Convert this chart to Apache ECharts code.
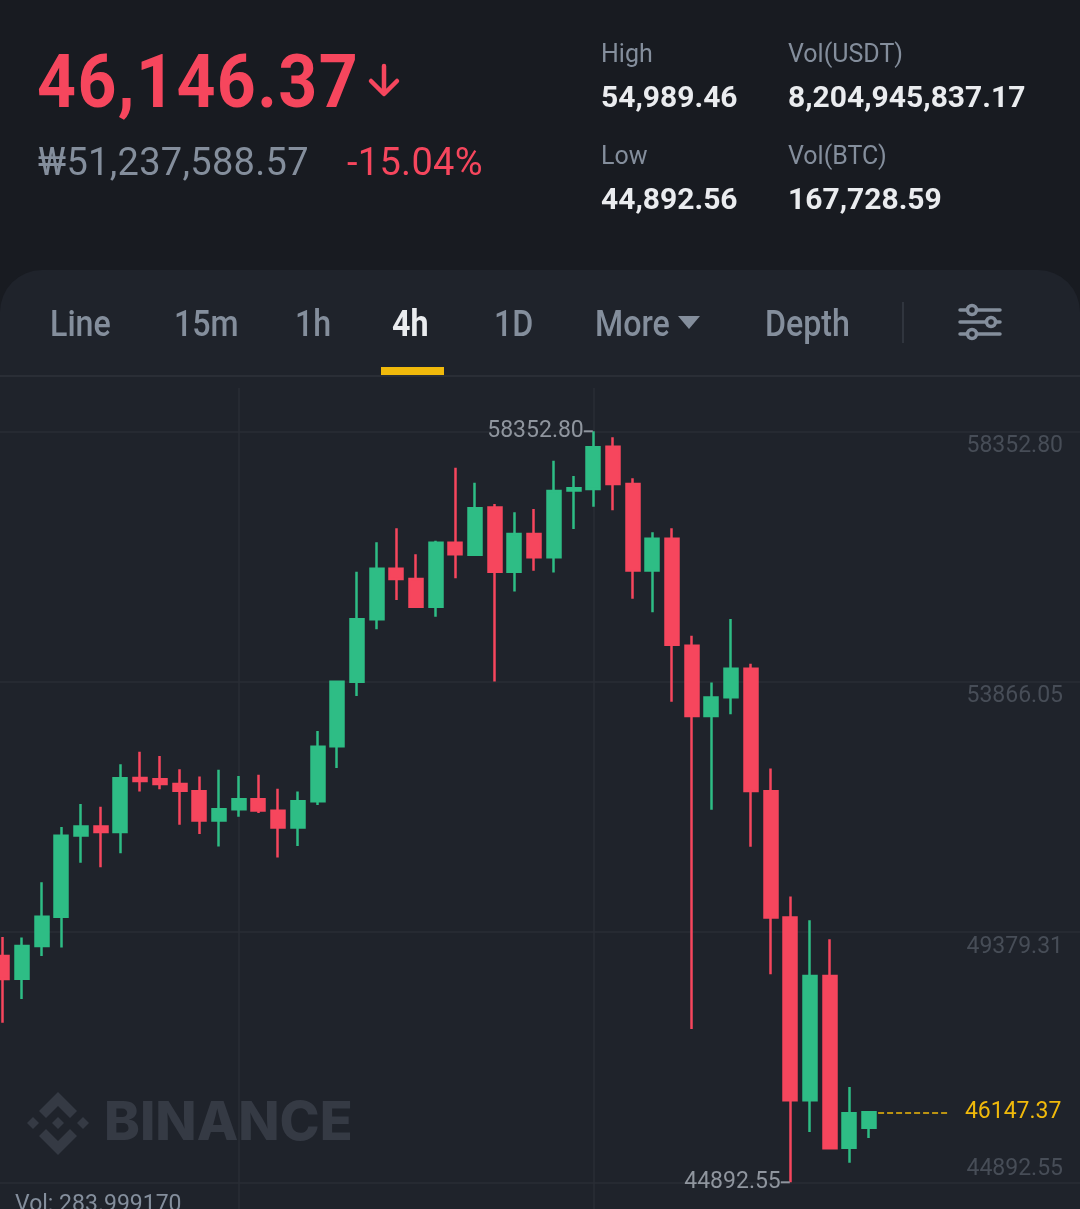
<!DOCTYPE html>
<html>
<head>
<meta charset="utf-8">
<script src="https://cdn.jsdelivr.net/npm/echarts@6/dist/echarts.min.js"></script>
<style>
html,body{margin:0;padding:0;width:1080px;height:1209px;overflow:hidden;background:#181b21;font-family:Roboto,'Noto Sans',sans-serif;}
.abs{position:absolute;white-space:nowrap;line-height:1;}
#panel{position:absolute;left:0;top:270px;width:1080px;height:939px;background:#1f232b;border-radius:42px 42px 0 0;}
#chart{position:absolute;left:0;top:0;width:1080px;height:1209px;}
.lbl{font-size:25px;color:#848e9c;font-weight:400;}
.val{font-size:30px;color:#eaecef;font-weight:700;}
.tab{font-size:37px;color:#848e9c;font-weight:500;transform:scaleX(0.87);transform-origin:0 0;}
</style>
</head>
<body>
<div id="panel"></div>
<div id="chart"></div>

<div class="abs" style="left:37px;top:44px;font-size:68px;font-weight:700;color:#f6465d;letter-spacing:1.4px;transform:scaleY(1.1);transform-origin:0 0;">46,146.37</div>
<svg class="abs" style="left:364px;top:62px;" width="40" height="36" viewBox="0 0 40 36">
  <path d="M20 4 L20 31 M7 19 L20 32 L33 19" stroke="#f6465d" stroke-width="4.5" fill="none" stroke-linecap="round" stroke-linejoin="round"/>
</svg>
<div class="abs" style="left:38px;top:143px;font-size:38px;color:#848e9c;letter-spacing:0.3px;">₩51,237,588.57</div>
<div class="abs" style="left:347px;top:143px;font-size:38px;color:#f6465d;letter-spacing:0.3px;">-15.04%</div>

<div class="abs lbl" style="left:601px;top:41px;">High</div>
<div class="abs val" style="left:601px;top:81.5px;">54,989.46</div>
<div class="abs lbl" style="left:788px;top:41px;">Vol(USDT)</div>
<div class="abs val" style="left:788px;top:81.5px;">8,204,945,837.17</div>
<div class="abs lbl" style="left:601px;top:143px;">Low</div>
<div class="abs val" style="left:601px;top:183.5px;">44,892.56</div>
<div class="abs lbl" style="left:788px;top:143px;">Vol(BTC)</div>
<div class="abs val" style="left:788px;top:183.5px;">167,728.59</div>

<div class="abs tab" style="left:50px;top:305px;">Line</div>
<div class="abs tab" style="left:174px;top:305px;">15m</div>
<div class="abs tab" style="left:295px;top:305px;">1h</div>
<div class="abs tab" style="left:392px;top:305px;color:#eaecef;font-weight:700;">4h</div>
<div class="abs tab" style="left:494px;top:305px;">1D</div>
<div class="abs tab" style="left:595px;top:305px;">More</div>
<svg class="abs" style="left:678px;top:316px;" width="22" height="14"><polygon points="0,0 22,0 11,13" fill="#848e9c"/></svg>
<div class="abs tab" style="left:765px;top:305px;">Depth</div>
<div class="abs" style="left:902px;top:302px;width:2px;height:41px;background:#30353e;"></div>
<svg class="abs" style="left:955px;top:300px;" width="50" height="44" viewBox="0 0 50 44">
  <g stroke="#848e9c" stroke-width="3.5" stroke-linecap="round" fill="#1f232b">
    <line x1="5" y1="10" x2="45" y2="10"/>
    <line x1="5" y1="22" x2="45" y2="22"/>
    <line x1="5" y1="34" x2="45" y2="34"/>
    <circle cx="17" cy="10" r="4.5"/>
    <circle cx="36" cy="22" r="4.5"/>
    <circle cx="17" cy="34" r="4.5"/>
  </g>
</svg>
<div class="abs" style="left:381px;top:367px;width:63px;height:8px;background:#f0b90b;"></div>
<div class="abs" style="left:0;top:375px;width:1080px;height:2px;background:#2a2e36;"></div>

<script>
// ---- data ----
const categories = ['1','2','3','4','5','6','7','8','9','10','11','12','13','14','15','16','17','18','19','20','21','22','23','24','25','26','27','28','29','30','31','32','33','34','35','36','37','38','39','40','41','42','43','44','45'];
const openVals  = [48950,48540,49130,49650,51110,51270,51170,52140,52115,52030,51900,51375,51580,51760,51550,51250,51720,52710,53866,54985,55890,55705,55210,56355,56140,56985,55837,56510,56095,57290,57320,58075,57410,55860,56425,54510,53250,53585,54095,51900,49640,46365,48590,45510,45870];
const closeVals = [48538,49130,49650,51106,51270,51170,52135,52085,52030,51910,51375,51580,51760,51555,51250,51720,52700,53866,54985,55890,55705,55210,56355,56150,56975,55837,56510,56095,57285,57330,58065,57410,55860,56425,54525,53250,53580,54095,51905,49640,46365,48590,45505,46130,46147.37];
const lowVals   = [47750,48180,48950,49100,50620,50540,50790,51895,51935,51300,51135,50910,51445,51510,50715,50920,51655,52320,53610,54805,55330,55190,55030,55720,56120,53870,55480,55855,55820,56600,57000,56940,55350,55110,53505,47640,51570,53280,50905,48620,44892.55,45795,45495,45245,45685];
const highVals  = [49291,49280,50270,51260,51675,51625,52385,52610,52535,52295,52165,52285,52175,52195,51945,51895,52980,53880,55837,56365,56615,56150,56390,57700,57430,57050,56900,56960,57825,57550,58352.80,58245,57510,56545,56615,54690,53850,54990,54185,52310,50015,49590,49250,46600,46160];
const yTicks = [44892.55, 49379.30, 53866.05, 58352.80];
const yTickLabels = ['44892.55', '49379.31', '53866.05', '58352.80'];
const vLineCategories = [12, 30];
const volText = 'Vol: 283.999170';

// ---- layout ----
const GREEN = '#2ebd85', RED = '#f6465d', GRIDC = '#2a2e36';
const padSlots = 10;
const xData = categories.concat(Array.from({length: padSlots}, () => ''));
const lastIdx = categories.length - 1;
const lastClose = closeVals[lastIdx];

const g1Top = 431.3, g1Bot = 1182.3, g0Top = 388, g0Bot = 1209;
const vMin = yTicks[0], vMax = yTicks[yTicks.length - 1];
const perPx = (vMax - vMin) / (g1Bot - g1Top);
const yMin0 = vMin - (g0Bot - g1Bot) * perPx;
const yMax0 = vMax + (g1Top - g0Top) * perPx;

const chart = echarts.init(document.getElementById('chart'), null, {renderer: 'canvas'});
const labelFont = 'Roboto, sans-serif';

const option = {
  animation: false,
  backgroundColor: 'transparent',
  grid: [
    {left: 2.3, right: 13.9, top: g0Top, bottom: 0},
    {left: 0, right: 0, top: g1Top, height: g1Bot - g1Top}
  ],
  xAxis: [
    {type: 'category', gridIndex: 0, data: xData, boundaryGap: false, show: false},
    {type: 'value', gridIndex: 1, min: 0, max: 1, show: false}
  ],
  yAxis: [
    {type: 'value', gridIndex: 0, min: yMin0, max: yMax0, show: false, splitLine: {show: false}},
    {
      type: 'value', gridIndex: 1, position: 'right',
      min: vMin, max: vMax, interval: (vMax - vMin) / 3,
      axisLine: {show: false}, axisTick: {show: false},
      splitLine: {show: true, lineStyle: {color: GRIDC, width: 1.5}},
      axisLabel: {
        inside: true, margin: 17, showMinLabel: true, showMaxLabel: true,
        formatter: (v, i) => (i === 0 ? '{b|' : '{t|') + yTickLabels[i] + '}',
        rich: {
          t: {fontSize: 23, color: '#474d57', fontFamily: labelFont, padding: [30, 0, 0, 0]},
          b: {fontSize: 23, color: '#474d57', fontFamily: labelFont, padding: [0, 0, 26, 0]}
        }
      }
    }
  ],
  graphic: [
    {type: 'polygon', z: 0, shape: {points: [[58,1117],[64,1123],[58,1129],[52,1123]]}, style: {fill: '#353a44'}},
    {type: 'polygon', z: 0, shape: {points: [[33,1117],[39,1123],[33,1129],[27,1123]]}, style: {fill: '#353a44'}},
    {type: 'polygon', z: 0, shape: {points: [[83,1117],[89,1123],[83,1129],[77,1123]]}, style: {fill: '#353a44'}},
    {type: 'polygon', z: 0, shape: {points: [[58,1092],[77,1111],[70,1118],[58,1106],[46,1118],[39,1111]]}, style: {fill: '#353a44'}},
    {type: 'polygon', z: 0, shape: {points: [[58,1155],[77,1136],[70,1129],[58,1141],[46,1129],[39,1136]]}, style: {fill: '#353a44'}},
    {type: 'text', z: 0, left: 104, top: 1097, style: {text: 'BINANCE', fill: '#353a44', font: '800 54px Inter, Roboto, sans-serif'}},
    {type: 'text', z: 0, left: 15, top: 1194, style: {text: volText, fill: '#848e9c', font: '23px Roboto, sans-serif'}}
  ],
  series: [{
    type: 'candlestick',
    xAxisIndex: 0, yAxisIndex: 0,
    barWidth: 13.5,
    clip: false,
    data: openVals.map((o, i) => [o, closeVals[i], lowVals[i], highVals[i]]),
    itemStyle: {color: GREEN, color0: RED, borderColor: GREEN, borderColor0: RED, borderColorDoji: GREEN, borderWidth: 2.5},
    markPoint: {
      symbol: 'circle', symbolSize: 1,
      itemStyle: {color: 'rgba(0,0,0,0)'},
      label: {
        show: true, position: 'left', distance: 0,
        formatter: p => '{v|' + Number(p.value).toFixed(2) + '}{d| }',
        rich: {
          v: {fontSize: 23, color: '#8f959e', fontFamily: labelFont},
          d: {width: 9, height: 2, backgroundColor: '#8f959e', fontSize: 2}
        }
      },
      data: [
        {type: 'max', valueDim: 'highest'},
        {type: 'min', valueDim: 'lowest'}
      ]
    },
    markLine: {
      z: 1, silent: true, symbol: ['none', 'none'],
      data: vLineCategories.map(c => ({
        xAxis: c, lineStyle: {color: GRIDC, width: 1.5, type: 'solid'}, label: {show: false}
      })).concat([[
        {xAxis: lastIdx, yAxis: lastClose,
         lineStyle: {color: '#f0b90b', width: 1.6, type: [6, 3]},
         label: {show: true, position: 'end', distance: 17, color: '#f0b90b', fontSize: 23, fontFamily: labelFont,
                 formatter: () => lastClose.toFixed(2)}},
        {xAxis: lastIdx + 4, yAxis: lastClose,
         lineStyle: {color: '#f0b90b', width: 1.6, type: [6, 3]},
         label: {show: true, position: 'end', distance: 17, color: '#f0b90b', fontSize: 23, fontFamily: labelFont,
                 formatter: () => lastClose.toFixed(2)}}
      ]])
    }
  }]
};
chart.setOption(option);
</script>
</body>
</html>
